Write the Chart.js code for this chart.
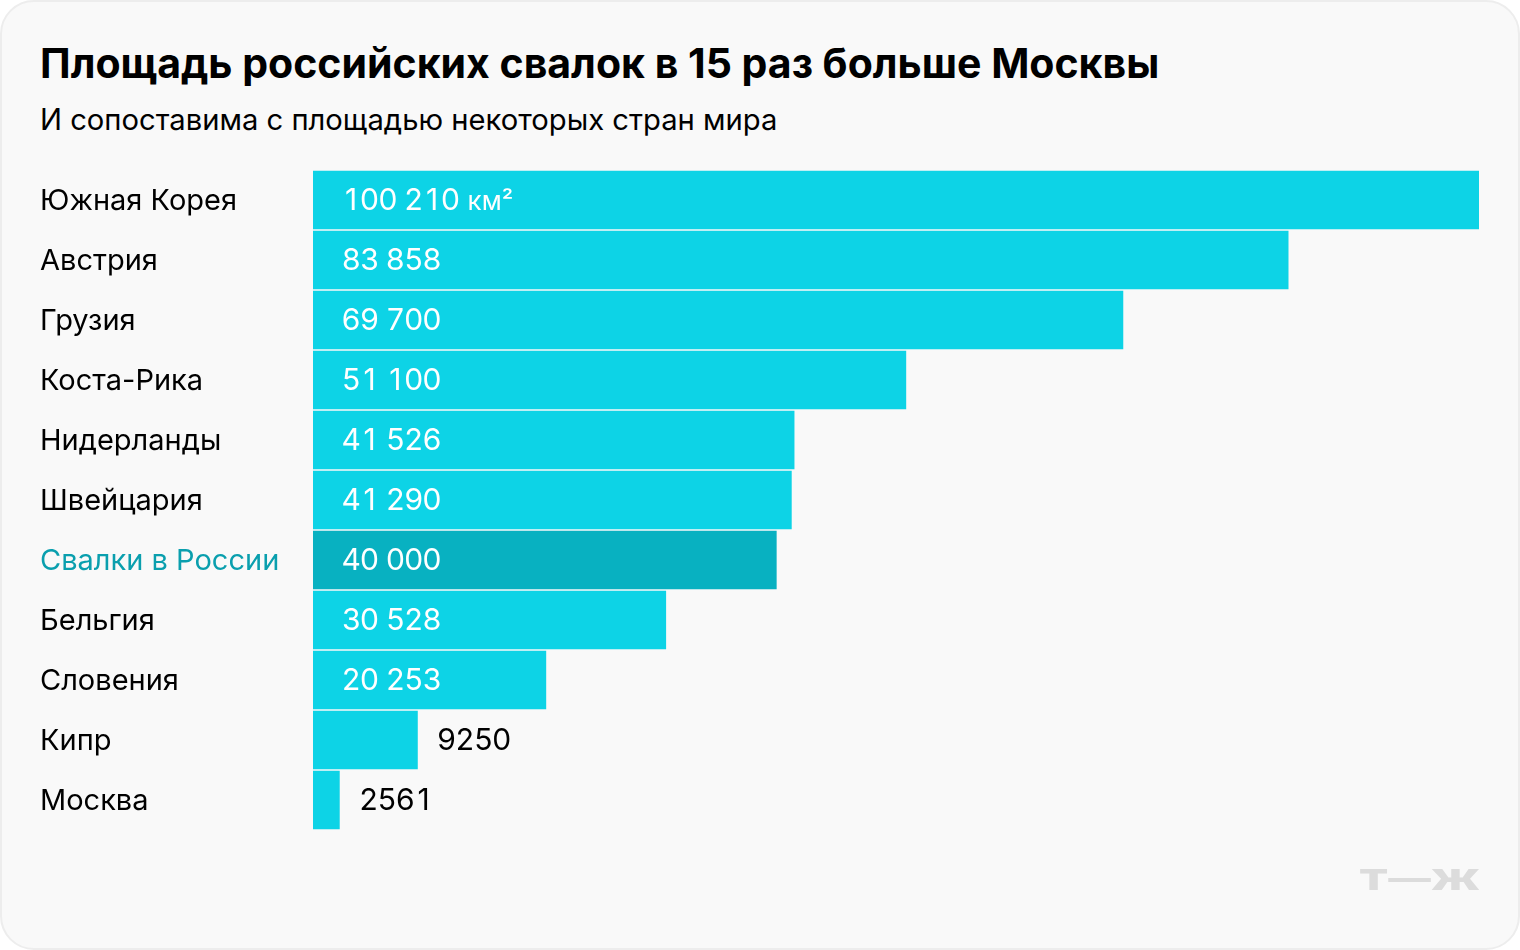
<!DOCTYPE html>
<html lang="ru"><head><meta charset="utf-8">
<style>
html,body{margin:0;padding:0;background:#fff;width:1520px;height:950px;overflow:hidden}
#card{position:absolute;left:0;top:0;width:1520px;height:950px;box-sizing:border-box;background:#f9f9f9;border:2px solid #ededed;border-radius:34px}
#chart{position:absolute;left:0;top:0}
.t{position:absolute;white-space:nowrap;font-family:Inter,sans-serif;color:#000}
#title{left:40px;top:38px;font-size:41px;line-height:50px;font-weight:700}
#sub{left:40px;top:101.5px;font-size:29.2px;line-height:36px;font-weight:400}
#logo{left:1359px;top:861px;font-size:28px;line-height:38px;font-weight:900;color:#dcdcdc;transform-origin:0 50%;transform:scaleX(1.52)}
</style></head><body>
<div id="card"></div>
<div class="t" id="title">Площадь российских свалок в 15 раз больше Москвы</div>
<div class="t" id="sub">И сопоставима с площадью некоторых стран мира</div>
<div style="position:absolute;left:0;top:0;width:1520px;height:950px"><canvas id="chart" width="1520" height="950"></canvas></div>
<div class="t" id="logo">Т—Ж</div>
<script src="https://cdn.jsdelivr.net/npm/chart.js@4"></script>
<script>
const categories=["Южная Корея","Австрия","Грузия","Коста-Рика","Нидерланды","Швейцария","Свалки в России","Бельгия","Словения","Кипр","Москва"];
const areas=[100210,83858,69700,51100,41526,41290,40000,30528,20253,9250,2561];
const valueLabels=["100 210","83 858","69 700","51 100","41 526","41 290","40 000","30 528","20 253","9250","2561"];
const unitLabel="км²";
const highlighted="Свалки в России";
const barColor="#0dd3e6",highlightBar="#08b1c1",highlightText="#0a9fae";
const FONT="Inter, sans-serif";
const DIGIT=18.35,SPACE=7.5;
const valuePlugin={id:"values",afterDatasetsDraw(c){
  const ctx=c.ctx,meta=c.getDatasetMeta(0);
  ctx.save();ctx.font="400 30px "+FONT;ctx.textBaseline="alphabetic";
  meta.data.forEach((b,i)=>{
    const inside=areas[i]>=10000;
    ctx.fillStyle=inside?"#fff":"#000";
    let x=inside?c.chartArea.left+29:b.x+20;
    const y=b.y+10;
    ctx.textAlign="center";
    for(const ch of valueLabels[i]){
      if(ch===" "){x+=SPACE;continue;}
      ctx.fillText(ch,x+DIGIT/2,y);x+=DIGIT;
    }
    if(i===0){ctx.save();ctx.textAlign="left";ctx.font="400 26px "+FONT;ctx.fillText(unitLabel,x+8,y);ctx.restore();}
  });
  ctx.restore();
}};
new Chart(document.getElementById("chart"),{
  type:"bar",
  data:{labels:categories,datasets:[{data:areas,
    backgroundColor:categories.map(n=>n===highlighted?highlightBar:barColor),
    barThickness:58,borderWidth:0}]},
  options:{
    indexAxis:"y",responsive:false,animation:false,
    devicePixelRatio:1,
    layout:{padding:{left:40,right:41,top:170,bottom:120}},
    plugins:{legend:{display:false},tooltip:{enabled:false}},
    scales:{
      x:{display:false,min:300,max:100210},
      y:{
        grid:{display:false},border:{display:false},
        afterFit(s){s.width=273;},
        ticks:{crossAlign:"far",padding:0,autoSkip:false,labelOffset:1.5,
          font:{family:FONT,size:29,weight:"400"},
          color:(ctx)=>categories[ctx.index]===highlighted?highlightText:"#000"}
      }
    }
  },
  plugins:[valuePlugin]
});
</script></body></html>
